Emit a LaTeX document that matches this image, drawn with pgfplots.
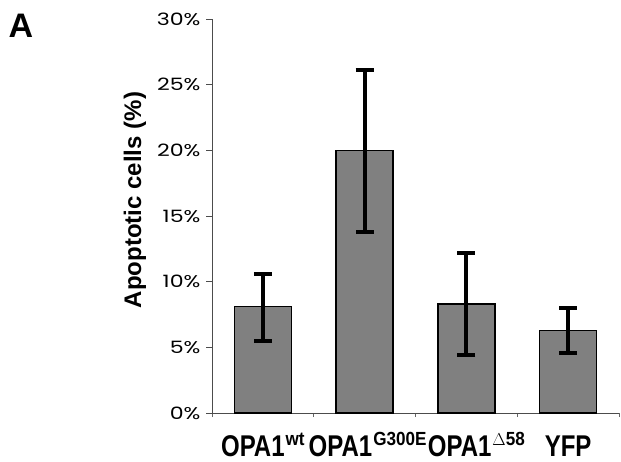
\documentclass[border=0pt]{standalone}
\usepackage{pgfplots}
\pgfplotsset{compat=1.18}
\usepackage{fontspec}
\setmainfont{Liberation Sans}
\newfontfamily\tickfont{Poppins}[FakeStretch=1.3]
\newfontfamily\labelfont{Liberation Sans}[FakeStretch=0.8]
\newfontfamily\supfont{Liberation Sans}[FakeStretch=0.9]
\newcommand{\sups}[1]{\hspace{1pt}\raisebox{11pt}{\supfont\fontsize{19}{19}\selectfont\bfseries #1}}
\begin{document}
\begin{tikzpicture}
\path[use as bounding box] (0,0) rectangle (621pt,461pt);
\node[anchor=center, font=\fontsize{34}{36}\selectfont\bfseries] at (21pt,435pt) {A};
\node[anchor=center, rotate=90, font=\fontsize{24}{26}\selectfont\bfseries] at (135pt,261pt) {Apoptotic cells (\%)};
\begin{axis}[
  at={(212pt,48pt)}, anchor=south west,
  scale only axis, width=407pt, height=394pt,
  xmin=-0.5, xmax=3.5, ymin=0, ymax=30,
  axis x line*=bottom, axis y line*=left,
  axis line style={-, black!70, line width=1pt},
  xtick={0,1,2,3},
  xticklabels={OPA1\sups{wt}\hspace{12pt}, \hspace{6pt}OPA1\sups{G300E}, \hspace{20pt}OPA1\sups{\(\Delta\)58}, YFP},
  major x tick style={draw=none},
  minor xtick={-0.5,0.5,1.5,2.5,3.5},
  minor x tick style={black!60, line width=0.8pt},
  minor tick length=4pt,
  ytick={0,5,10,15,20,25,30},
  yticklabel={\pgfmathprintnumber{\tick}\%},
  major y tick style={black!70, line width=0.8pt},
  major tick length=6pt,
  tick align=outside,
  /pgf/number format/assume math mode=true,
  yticklabel style={font=\tickfont\fontsize{17}{18}\selectfont, xshift=-2pt},
  xticklabel style={font=\labelfont\fontsize{30}{32}\selectfont\bfseries, anchor=base, yshift=-37pt, inner sep=0pt},
  clip=false,
]
\addplot[ybar, bar width=57pt, fill=black!50, draw=black, line width=1.5pt,
  error bars/.cd, y dir=both, y explicit,
  error bar style={line width=4pt, black},
  error mark options={rotate=90, mark size=9pt, line width=4pt, black}]
coordinates {
 (0,8.1) += (0,2.5) -= (0,2.6)
 (1,20.0) += (0,6.1) -= (0,6.2)
 (2,8.3) += (0,3.9) -= (0,3.9)
 (3,6.3) += (0,1.7) -= (0,1.7)
};
\end{axis}
\end{tikzpicture}
\end{document}
